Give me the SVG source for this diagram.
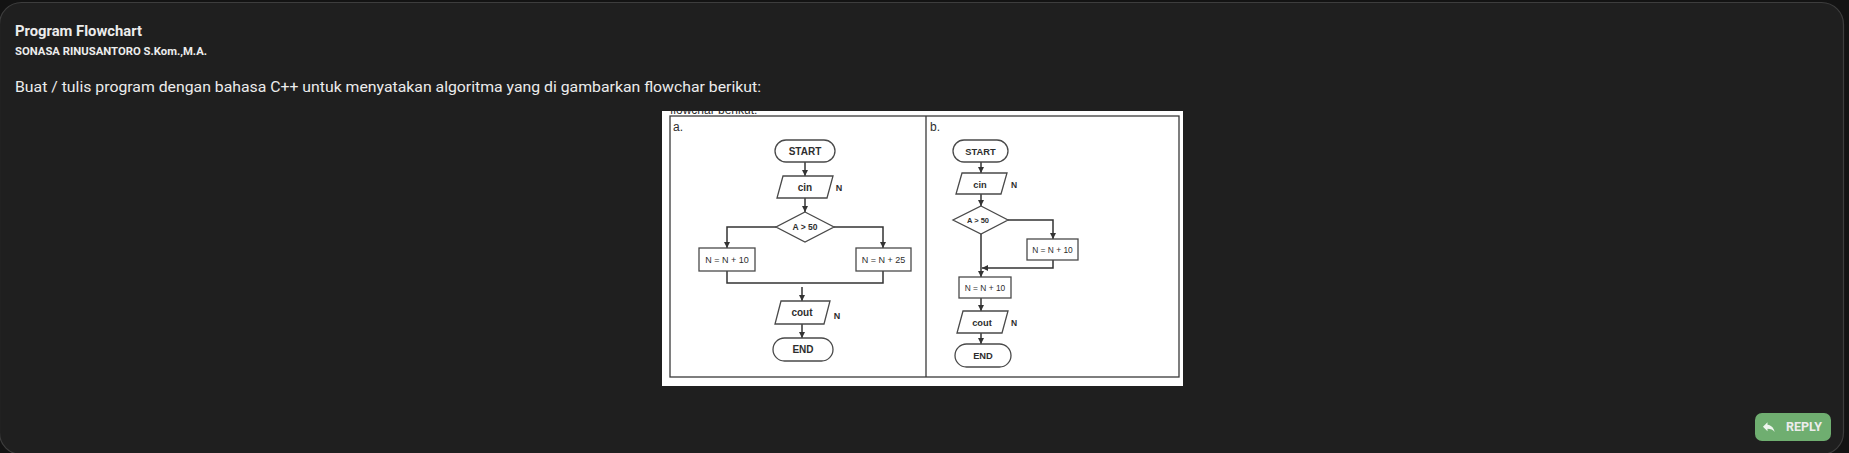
<svg xmlns="http://www.w3.org/2000/svg" width="1849" height="453" viewBox="0 0 1849 453">
<defs>
<style>
.ui{font-family:Roboto,"Liberation Sans",sans-serif;fill:#ececec}
.fc{font-family:"Liberation Sans",Arial,sans-serif;fill:#2e2e2e}
.shape{fill:#ffffff;stroke:#4a4a4a;stroke-width:1.3}
.ln{fill:none;stroke:#333333;stroke-width:1.5}
.b{font-weight:bold}
</style>
<marker id="ah" viewBox="0 0 10 10" refX="10" refY="5" markerWidth="6" markerHeight="6" markerUnits="userSpaceOnUse" orient="auto">
<path d="M0 0L10 5L0 10z" fill="#333333"/>
</marker>
<clipPath id="imgclip"><rect x="662" y="111" width="521" height="275"/></clipPath>
</defs>
<rect x="0" y="0" width="1849" height="453" fill="#131313"/>
<rect id="card" x="-0.5" y="2.5" width="1844" height="452" rx="22" fill="#1f1f1f" stroke="#3d3d3d" stroke-width="1.2"/>
<g id="header">
<text class="ui b" x="15" y="36" font-size="14" textLength="127" lengthAdjust="spacingAndGlyphs">Program Flowchart</text>
<text class="ui b" x="15" y="54.5" font-size="10.5" textLength="192" lengthAdjust="spacingAndGlyphs">SONASA RINUSANTORO S.Kom.,M.A.</text>
<text class="ui" x="15" y="91.5" font-size="15" textLength="746" lengthAdjust="spacingAndGlyphs">Buat / tulis program dengan bahasa C++ untuk menyatakan algoritma yang di gambarkan flowchar berikut:</text>
</g>
<g id="image">
<rect x="662" y="111" width="521" height="275" fill="#ffffff"/>
<g clip-path="url(#imgclip)"><text class="fc" x="670" y="113.5" font-size="12" fill="#555">flowchar berikut:</text></g>
<rect x="670" y="116" width="509" height="261" fill="none" stroke="#3a3a3a" stroke-width="1.3"/>
<line x1="926" y1="116" x2="926" y2="377" stroke="#3a3a3a" stroke-width="1.3"/>
<text class="fc" x="673" y="131" font-size="12">a.</text>
<text class="fc" x="930" y="131" font-size="12">b.</text>
</g>
<g id="connectors">
<line class="ln" x1="805" y1="162" x2="805" y2="176" marker-end="url(#ah)"/>
<line class="ln" x1="805" y1="198" x2="805" y2="212" marker-end="url(#ah)"/>
<polyline class="ln" points="776,227 727,227 727,248" marker-end="url(#ah)"/>
<polyline class="ln" points="834,227 883,227 883,248" marker-end="url(#ah)"/>
<polyline class="ln" points="727,271 727,283 883,283 883,271"/>
<line class="ln" x1="802" y1="287" x2="802" y2="301" marker-end="url(#ah)"/>
<line class="ln" x1="802" y1="324" x2="802" y2="338" marker-end="url(#ah)"/>
<line class="ln" x1="981" y1="162" x2="981" y2="173" marker-end="url(#ah)"/>
<line class="ln" x1="981" y1="194" x2="981" y2="206" marker-end="url(#ah)"/>
<polyline class="ln" points="1008,220 1053,220 1053,239" marker-end="url(#ah)"/>
<polyline class="ln" points="1053,260 1053,268 982,268" marker-end="url(#ah)"/>
<line class="ln" x1="981" y1="234" x2="981" y2="277" marker-end="url(#ah)"/>
<line class="ln" x1="981" y1="298" x2="981" y2="311" marker-end="url(#ah)"/>
<line class="ln" x1="981" y1="333" x2="981" y2="344" marker-end="url(#ah)"/>
</g>
<g id="a-start"><rect class="shape" x="775" y="140" width="60" height="22" rx="11"/><text class="fc b" x="805" y="154.5" font-size="10" text-anchor="middle">START</text></g>
<g id="a-cin"><polygon class="shape" points="783,176 833,176 827,198 777,198"/><text class="fc b" x="805" y="190.5" font-size="10" text-anchor="middle">cin</text><text class="fc b" x="839" y="191" font-size="9" text-anchor="middle">N</text></g>
<g id="a-decision"><polygon class="shape" points="805,212 834,227 805,242 776,227"/><text class="fc b" x="805" y="230" font-size="8.5" text-anchor="middle">A &gt; 50</text></g>
<g id="a-left"><rect class="shape" x="699" y="248" width="56" height="23"/><text class="fc" x="727" y="262.5" font-size="9" text-anchor="middle">N = N + 10</text></g>
<g id="a-right"><rect class="shape" x="856" y="248" width="55" height="23"/><text class="fc" x="883.5" y="262.5" font-size="9" text-anchor="middle">N = N + 25</text></g>
<g id="a-cout"><polygon class="shape" points="781,301 830,301 824,324 775,324"/><text class="fc b" x="802" y="316" font-size="10" text-anchor="middle">cout</text><text class="fc b" x="837" y="318.5" font-size="9" text-anchor="middle">N</text></g>
<g id="a-end"><rect class="shape" x="773" y="338" width="60" height="23" rx="11.5"/><text class="fc b" x="803" y="353" font-size="10" text-anchor="middle">END</text></g>
<g id="b-start"><rect class="shape" x="953" y="140" width="55" height="22" rx="11"/><text class="fc b" x="980.5" y="154.5" font-size="9.3" text-anchor="middle">START</text></g>
<g id="b-cin"><polygon class="shape" points="962,173 1007,173 1001,194 956,194"/><text class="fc b" x="980" y="187.5" font-size="9.3" text-anchor="middle">cin</text><text class="fc b" x="1014" y="188" font-size="8.5" text-anchor="middle">N</text></g>
<g id="b-decision"><polygon class="shape" points="981,206 1008,220 981,234 953,220"/><text class="fc b" x="978" y="222.5" font-size="7.5" text-anchor="middle">A &gt; 50</text></g>
<g id="b-right"><rect class="shape" x="1027" y="239" width="51" height="21"/><text class="fc" x="1052.5" y="252.5" font-size="8.4" text-anchor="middle">N = N + 10</text></g>
<g id="b-mid"><rect class="shape" x="959" y="277" width="52" height="21"/><text class="fc" x="985" y="290.5" font-size="8.4" text-anchor="middle">N = N + 10</text></g>
<g id="b-cout"><polygon class="shape" points="963,311 1008,311 1002,333 957,333"/><text class="fc b" x="982" y="325.5" font-size="9.3" text-anchor="middle">cout</text><text class="fc b" x="1014" y="326" font-size="8.5" text-anchor="middle">N</text></g>
<g id="b-end"><rect class="shape" x="955" y="344" width="56" height="23" rx="11.5"/><text class="fc b" x="983" y="358.5" font-size="9.3" text-anchor="middle">END</text></g>
<g id="reply">
<rect x="1755" y="413" width="76" height="28" rx="7" fill="#6fae70"/>
<path d="M10 9V5l-7 7 7 7v-4.1c5 0 8.5 1.6 11 5.1-1-5-4-10-11-11z" transform="translate(1761,419) scale(0.65)" fill="#eef5ee"/>
<text class="ui b" x="1786" y="431" font-size="12" fill="#f2f7f2" textLength="36" lengthAdjust="spacingAndGlyphs">REPLY</text>
</g>
</svg>
